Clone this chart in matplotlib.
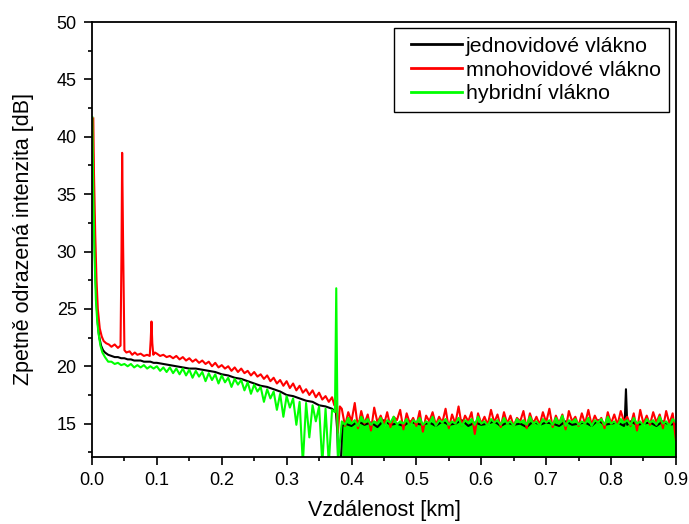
import numpy as np
import matplotlib
matplotlib.use('Agg')
import matplotlib.pyplot as plt
from matplotlib.ticker import MultipleLocator
from matplotlib.legend_handler import HandlerLine2D

plt.rcParams['font.family'] = ['Liberation Sans', 'DejaVu Sans']

# --- jednovidove vlakno (black) ---
single_head_x = [0.001, 0.003, 0.005, 0.007, 0.009, 0.011, 0.014, 0.017, 0.020, 0.025,
                 0.030, 0.035, 0.040, 0.045, 0.050, 0.055, 0.060, 0.065, 0.070, 0.075,
                 0.080, 0.085, 0.090, 0.095]
single_head_y = [40.5, 33.5, 28.5, 25.5, 23.7, 22.6, 21.8, 21.4, 21.2, 21.0,
                 20.9, 20.8, 20.8, 20.7, 20.7, 20.6, 20.6, 20.5, 20.5, 20.5,
                 20.4, 20.4, 20.4, 20.3]
single_mid_y = [20.3, 20.2, 20.1, 20.0, 19.9, 19.8, 19.8, 19.7, 19.6, 19.5,
                19.3, 19.2, 19.0, 18.9, 18.7, 18.5, 18.3, 18.2, 18.0, 17.8,
                17.5, 17.4, 17.2, 17.0, 16.9, 16.6, 16.5, 16.3]          # 0.10 .. 0.37, step 0.01
single_event_x = [0.376, 0.378, 0.380, 0.383, 0.386, 0.821, 0.823, 0.825]
single_event_y = [16.0, 14.4, 11.0, 11.0, 14.8, 15.0, 18.0, 14.9]
single_tail_y = [15.0, 14.8, 15.2, 14.9, 15.1, 14.7, 15.3, 14.9, 15.0, 14.8,
                 15.2, 15.0, 14.9, 15.1, 14.8, 15.2, 14.9, 15.0, 15.3, 14.8,
                 15.1, 14.9, 15.0, 15.2, 14.8, 15.1, 14.9, 15.0, 14.7, 15.2,
                 14.9, 15.1, 15.0, 14.8, 15.2, 14.9, 15.0, 15.1, 14.8, 15.3,
                 14.9, 15.0, 15.1, 14.8, 15.2, 14.9, 15.0, 15.1, 14.8, 15.2,
                 14.9, 15.0]                                            # 0.39 .. 0.90, step 0.01

# --- mnohovidove vlakno (red) ---
multi_head_x = [0.002, 0.003, 0.005, 0.007, 0.009, 0.012, 0.015, 0.018, 0.022, 0.026,
                0.030, 0.035, 0.040, 0.044, 0.0455, 0.0465, 0.048, 0.050, 0.053, 0.058,
                0.062, 0.066, 0.070, 0.075, 0.080, 0.085, 0.089, 0.0905, 0.0917, 0.093,
                0.0945, 0.097]
multi_head_y = [41.6, 37.0, 31.5, 27.5, 25.0, 23.3, 22.6, 22.2, 22.0, 21.9,
                21.7, 21.9, 21.6, 21.8, 30.0, 38.6, 30.5, 21.4, 21.2, 21.3,
                21.0, 21.2, 21.0, 21.1, 20.9, 21.0, 20.9, 22.3, 23.9, 22.0,
                21.0, 21.2]
multi_mid_y = [21.1, 20.9, 21.0, 20.8, 20.9, 20.7, 20.9, 20.6, 20.8, 20.5,
               20.7, 20.4, 20.6, 20.3, 20.5, 20.2, 20.4, 20.0, 20.3, 19.9,
               20.1, 19.8, 20.0, 19.6, 19.9, 19.5, 19.8, 19.4, 19.6, 19.2,
               19.5, 19.1, 19.3, 18.9, 19.2, 18.7, 19.0, 18.5, 18.8, 18.3,
               18.7, 18.1, 18.5, 17.9, 18.3, 17.7, 18.0, 17.5, 17.9, 17.3,
               17.7, 17.1, 17.4, 16.9, 17.3]                              # 0.100 .. 0.370, step 0.005
multi_event_x = [0.3735, 0.376, 0.379, 0.382]
multi_event_y = [16.6, 17.0, 14.2, 16.5]
multi_tail_y = [16.3, 14.8, 16.0, 15.2, 16.8, 14.6, 16.1, 15.0, 15.8, 14.4,
                16.4, 15.1, 15.7, 14.9, 16.0, 14.7, 15.6, 15.3, 16.2, 14.5,
                15.9, 15.0, 15.5, 14.8, 16.1, 14.3, 15.7, 15.2, 16.0, 14.9,
                15.6, 15.1, 16.3, 14.6, 15.8, 15.0, 16.5, 14.8, 15.7, 15.2,
                16.0, 14.1, 15.9, 15.0, 15.6, 14.9, 16.2, 15.1, 15.8, 14.7,
                16.0, 15.0, 15.7, 14.8, 15.5, 15.2, 16.1, 14.6, 15.9, 15.0,
                15.6, 14.9, 16.0, 15.1, 16.3, 14.7, 15.7, 15.0, 15.8, 14.5,
                16.1, 15.2, 15.6, 14.8, 15.9, 15.0, 16.2, 14.9, 15.7, 15.1,
                15.5, 14.6, 16.0, 15.0, 15.8, 14.9, 16.1, 15.2, 15.6, 14.8,
                15.9, 14.4, 16.2, 15.0, 15.7, 14.9, 16.0, 15.1, 15.8, 14.6,
                16.1, 15.0, 15.9, 13.6]                                   # 0.385 .. 0.900, step 0.005

# --- hybridni vlakno (green) ---
hybrid_head_x = [0.0005, 0.002, 0.004, 0.006, 0.008, 0.010, 0.013, 0.016, 0.020, 0.025,
                 0.030, 0.035, 0.040, 0.045, 0.050, 0.055, 0.060, 0.065, 0.070, 0.075,
                 0.080, 0.085, 0.090, 0.095]
hybrid_head_y = [41.7, 35.0, 29.5, 25.8, 24.0, 22.9, 21.8, 21.2, 20.8, 20.4,
                 20.4, 20.2, 20.3, 20.1, 20.2, 20.0, 20.2, 19.9, 20.1, 19.9,
                 20.1, 19.8, 20.0, 19.8]
hybrid_mid_y = [20.0, 19.6, 19.9, 19.5, 19.9, 19.4, 19.8, 19.3, 19.8, 19.2,
                19.7, 19.0, 19.6, 19.1, 19.5, 18.7, 19.4, 18.8, 19.3, 18.5,
                19.2, 18.6, 19.0, 18.2, 18.9, 18.4, 18.8, 17.9, 18.6, 17.6,
                18.4, 17.8, 18.2, 16.9, 18.0, 17.2, 17.8, 16.2, 17.6, 15.6,
                17.4, 16.4, 17.2, 14.9, 16.9, 11.5, 16.8, 13.8, 16.6, 15.2,
                16.5, 11.5, 16.3, 11.5, 16.2]                             # 0.100 .. 0.370, step 0.005
hybrid_event_x = [0.3745, 0.3765, 0.379]
hybrid_event_y = [16.0, 26.8, 11.5]
hybrid_tail_y = [15.2, 14.9, 15.5, 15.0, 15.3, 14.8, 15.6, 15.1, 15.4, 14.9,
                 15.2, 15.0, 15.5, 14.7, 15.3, 15.1, 15.6, 14.9, 15.2, 15.0,
                 15.4, 14.8, 15.3, 15.1, 15.5, 14.9, 15.2, 15.0, 15.6, 14.8,
                 15.3, 15.1, 15.4, 14.9, 15.2, 15.0, 15.5, 14.8, 15.3, 15.1,
                 15.4, 14.9, 15.6, 15.0, 15.2, 14.8, 15.4, 15.1, 15.3, 14.9,
                 15.5, 15.0, 15.2, 14.8, 15.4, 15.1, 15.3, 14.9, 15.6, 15.0,
                 15.2, 14.8, 15.4, 15.1, 15.3, 14.9, 15.5, 15.0, 15.7, 14.8,
                 15.3, 15.1, 15.4, 14.9, 15.2, 15.0, 15.5, 14.8, 15.3, 15.1,
                 15.4, 14.9, 15.6, 15.0, 15.2, 14.8, 15.4, 15.1, 15.3, 14.9,
                 15.5, 15.0, 15.2, 14.8, 15.4, 15.1, 15.3, 14.9, 15.6, 15.0,
                 15.2, 14.8, 15.4, 15.1]                                  # 0.385 .. 0.900, step 0.005

labels = ['jednovidové vlákno', 'mnohovidové vlákno', 'hybridní vlákno']
colors = ['#000000', '#ff0000', '#00ff00']
Y_MIN, Y_MAX = 12.1, 50


def grid(start, step, vals):
    return start + step * np.arange(len(vals))


def assemble(parts):
    x = np.concatenate([np.asarray(p[0], float) for p in parts])
    y = np.concatenate([np.asarray(p[1], float) for p in parts])
    order = np.argsort(x, kind='stable')
    return x[order], y[order]


x_single, y_single = assemble([(single_head_x, single_head_y),
                               (grid(0.10, 0.01, single_mid_y), single_mid_y),
                               (single_event_x, single_event_y),
                               (grid(0.39, 0.01, single_tail_y), single_tail_y)])
x_multi, y_multi = assemble([(multi_head_x, multi_head_y),
                             (grid(0.100, 0.005, multi_mid_y), multi_mid_y),
                             (multi_event_x, multi_event_y),
                             (grid(0.385, 0.005, multi_tail_y), multi_tail_y)])
x_hybrid, y_hybrid = assemble([(hybrid_head_x, hybrid_head_y),
                               (grid(0.100, 0.005, hybrid_mid_y), hybrid_mid_y),
                               (hybrid_event_x, hybrid_event_y),
                               (grid(0.385, 0.005, hybrid_tail_y), hybrid_tail_y)])

fig = plt.figure(figsize=(6.89, 5.24), dpi=100)
ax = fig.add_axes([0.1335, 0.128, 0.8475, 0.830])

ax.plot(x_single, y_single, color=colors[0], lw=1.5, label=labels[0])
ax.plot(x_multi, y_multi, color=colors[1], lw=1.5, label=labels[1])
ax.plot(x_hybrid, y_hybrid, color=colors[2], lw=1.5, label=labels[2])
# dense noise floor of the hybrid trace reaches below the axis
floor = x_hybrid >= 0.38
ax.fill_between(x_hybrid[floor], y_hybrid[floor], Y_MIN - 1, color=colors[2], lw=0)

ax.set_xlim(0, 0.9)
ax.set_ylim(Y_MIN, Y_MAX)
ax.xaxis.set_minor_locator(MultipleLocator(0.05))
ax.yaxis.set_minor_locator(MultipleLocator(2.5))
ax.set_xticks(np.arange(0, 0.91, 0.1))
ax.set_xticklabels([f'{v:.1f}' for v in np.arange(0, 0.91, 0.1)])
ax.set_yticks([15, 20, 25, 30, 35, 40, 45, 50])
ax.tick_params(which='major', direction='out', length=6, width=1.2, labelsize=13,
               pad=5, top=False, right=False)
ax.tick_params(which='minor', direction='out', length=3, width=1.2, top=False, right=False)
for s in ax.spines.values():
    s.set_linewidth(1.3)

ax.set_xlabel('Vzdálenost [km]', fontsize=15.5, labelpad=8)
ax.set_ylabel('Zpetně odrazená intenzita [dB]', fontsize=15.5, labelpad=16)

# legend line starts a little in from the frame edge, as in the original
handler = HandlerLine2D(xpad=0.36)
leg = ax.legend(loc='upper right', fontsize=15.4, fancybox=False, frameon=True,
                edgecolor='black', framealpha=1, handlelength=2.75, handletextpad=0.2,
                labelspacing=0.22, borderaxespad=0.3, borderpad=0.4,
                handler_map={matplotlib.lines.Line2D: handler})
leg.get_frame().set_linewidth(1.0)
for line in leg.get_lines():
    line.set_linewidth(2)

fig.savefig('out.png', dpi=100)
